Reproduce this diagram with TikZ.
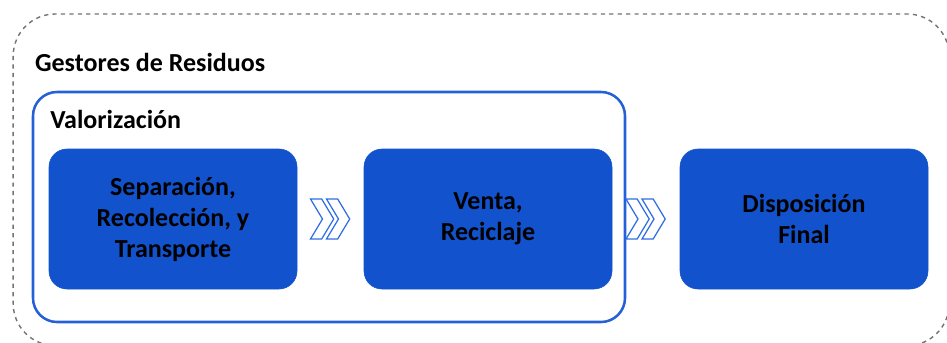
\documentclass[tikz,border=0pt]{standalone}
\usepackage{fontspec}
\setmainfont{Carlito}
\usetikzlibrary{calc}
\definecolor{stageblue}{RGB}{18,82,204}
\definecolor{frameblue}{RGB}{36,96,214}
\definecolor{chevblue}{RGB}{48,110,226}
\definecolor{dashgray}{RGB}{115,115,115}

\tikzset{
  stage/.style={rounded corners=0.45cm, fill=stageblue, draw=stageblue,
    minimum width=6.2cm, minimum height=3.5cm, align=center,
    font=\bfseries\fontsize{18.5}{22}\selectfont},
  title/.style={anchor=base west, inner sep=0pt,
    font=\bfseries\fontsize{18.5}{22}\selectfont},
  chevrons/.pic={
    \foreach \dx in {-0.5,-0.1}
      \draw[chevblue, line width=0.9pt, fill=white, line join=miter]
        (\dx,0.5) -- ++(0.28,0) -- ++(0.3,-0.5) -- ++(-0.3,-0.5)
        -- ++(-0.28,0) -- ++(0.3,0.5) -- cycle;
  }
}

\begin{document}
\begin{tikzpicture}
  \useasboundingbox (0,0) rectangle (23.675,-8.575);
  % outer dashed frame, runs off the bottom right
  \draw[dashgray, dashed, line width=1pt, rounded corners=1.05cm]
    (0.33,-0.35) rectangle (23.73,-8.64);
  \node[title] (gestores) at (0.87,-1.8) {Gestores de Residuos};

  % recovery group
  \node[draw=frameblue, line width=1.8pt, rounded corners=0.6cm,
    minimum width=14.8cm, minimum height=5.75cm] (valor) at (8.225,-5.175) {};
  \node[title] (valorlbl) at (1.25,-3.2) {Valorización};

  \node[stage] (sep) at (4.325,-5.475) {Separación,\\Recolección, y\\Transporte};
  \node[stage] (venta) at (12.2,-5.475) {Venta,\\Reciclaje};
  \node[stage] (disp) at (20.1,-5.475) {Disposición\\Final};

  \pic at ($(sep.east)!0.5!(venta.west)$) {chevrons};
  \pic at ($(venta.east)!0.5!(disp.west)$) {chevrons};
\end{tikzpicture}
\end{document}
